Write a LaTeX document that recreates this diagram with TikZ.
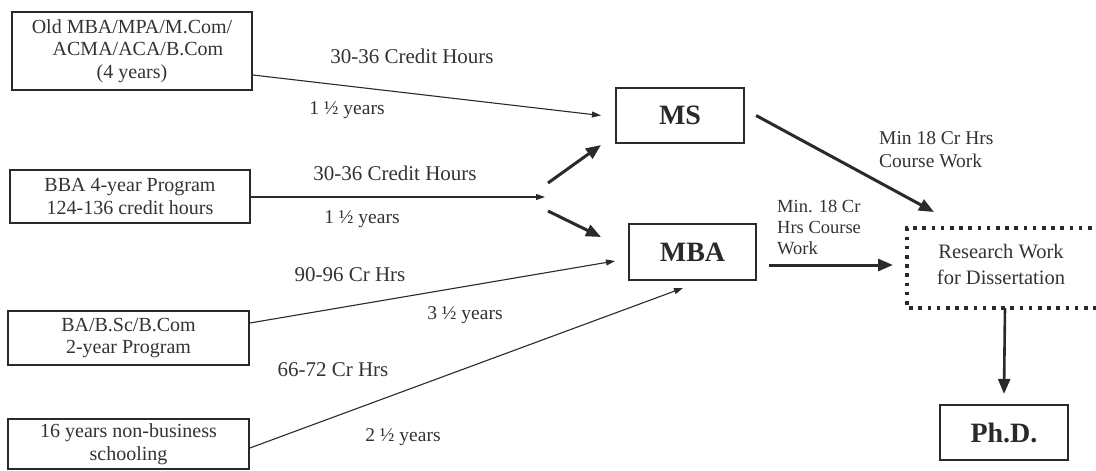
\documentclass[tikz,border=0pt]{standalone}
\usepackage{fontspec}
\setmainfont{Liberation Serif}
\usetikzlibrary{arrows.meta}
\definecolor{ink}{HTML}{2A2A2A}
\definecolor{txt}{HTML}{333333}
\tikzset{
  box/.style={draw=ink, line width=1.8pt, text=txt, align=center, inner sep=0pt,
    font=\fontsize{20}{22.5}\selectfont},
  degree/.style={draw=ink, line width=2.2pt, text=ink, inner sep=0pt,
    font=\fontsize{28}{30}\selectfont\bfseries},
  crlbl/.style={text=txt, inner sep=0pt, font=\fontsize{21}{24}\selectfont},
  yrlbl/.style={text=txt, inner sep=0pt, font=\fontsize{19.5}{22}\selectfont},
  small/.style={text=txt, inner sep=0pt, align=left, font=\fontsize{18.5}{21}\selectfont},
  thinarrow/.style={draw=ink, line width=1.1pt, -{Triangle[length=9pt,width=6pt]}},
  thickarrow/.style={draw=ink, line width=3pt, -{Triangle[length=15pt,width=12pt]}},
  dotbox/.style={draw=ink, line width=3.6pt, dash pattern=on 3.6pt off 5.6pt},
}
\begin{document}
\begin{tikzpicture}[x=1pt,y=-1pt]
\useasboundingbox[fill=white] (0,0) rectangle (1096,471);

% source boxes
\node[box, minimum width=240pt, minimum height=78pt] (b1) at (132,51)
  {Old MBA/MPA/M.Com/\\ \hspace*{12pt}ACMA/ACA/B.Com\\(4 years)};
\node[box, minimum width=240pt, minimum height=53pt] (b2) at (130,196.5)
  {BBA 4-year Program\\124-136 credit hours};
\node[box, minimum width=241pt, minimum height=54pt] (b3) at (128.5,338)
  {BA/B.Sc/B.Com\\2-year Program};
\node[box, minimum width=241pt, minimum height=50pt] (b4) at (128.5,444)
  {16 years non-business\\schooling};

% degree boxes
\node[degree, minimum width=128pt, minimum height=55pt] (ms) at (680,115.5) {MS};
\node[degree, minimum width=127pt, minimum height=56pt] (mba) at (692.5,252) {MBA};
\node[degree, minimum width=128pt, minimum height=55pt] (phd) at (1004,432.5) {Ph.D.};

% research box (runs off the right edge)
\draw[dotbox] (1110,228) -- (907,228) -- (907,308) -- (1110,308);
\node[text=txt, align=center, inner sep=0pt, font=\fontsize{20.5}{26}\selectfont] (rw) at (1001,264)
  {Research Work\\for Dissertation};
\coordinate (rwtop) at (934,212);
\coordinate (rwleft) at (893,265);
\coordinate (rwbot) at (1005,308);

% junction coordinates
\coordinate (j) at (545,197);
\coordinate (jup) at (548,183);
\coordinate (jdn) at (548,211);
\coordinate (msin) at (601,145);
\coordinate (mbain) at (601,237);

% thin arrows
\draw[thinarrow] ([yshift=-24pt]b1.east) -- ([xshift=-14pt]ms.west);
\draw[thinarrow] (b2.east |- j) -- (j);
\draw[thinarrow] ([yshift=15pt]b3.east) -- (615,261);
\draw[thinarrow] ([yshift=-4pt]b4.east) -- (683,288);

% thick arrows
\draw[thickarrow] (jup) -- (msin);
\draw[thickarrow] (jdn) -- (mbain);
\draw[thickarrow] ([xshift=11pt]ms.east) -- (rwtop);
\draw[thickarrow] ([xshift=12pt,yshift=-13pt]mba.east) -- (rwleft);
\draw[thickarrow, line width=2.6pt] (rwbot) -- ([yshift=10pt]phd.north);

% labels
\node[crlbl] (l1) at (412,56) {30-36 Credit Hours};
\node[yrlbl] (l2) at (347,110) {1 ½ years};
\node[crlbl] (l3) at (395,173) {30-36 Credit Hours};
\node[yrlbl] (l4) at (362,219) {1 ½ years};
\node[crlbl] (l5) at (350,275) {90-96 Cr Hrs};
\node[yrlbl] (l6) at (465,315) {3 ½ years};
\node[crlbl] (l7) at (333,370) {66-72 Cr Hrs};
\node[yrlbl] (l8) at (403,437) {2 ½ years};
\node[small, anchor=west, font=\fontsize{19.5}{23}\selectfont] (l9) at (879,150) {Min 18 Cr Hrs\\Course Work};
\node[small, anchor=west] (l10) at (777,227) {Min. 18 Cr\\Hrs Course\\Work};
\end{tikzpicture}
\end{document}
